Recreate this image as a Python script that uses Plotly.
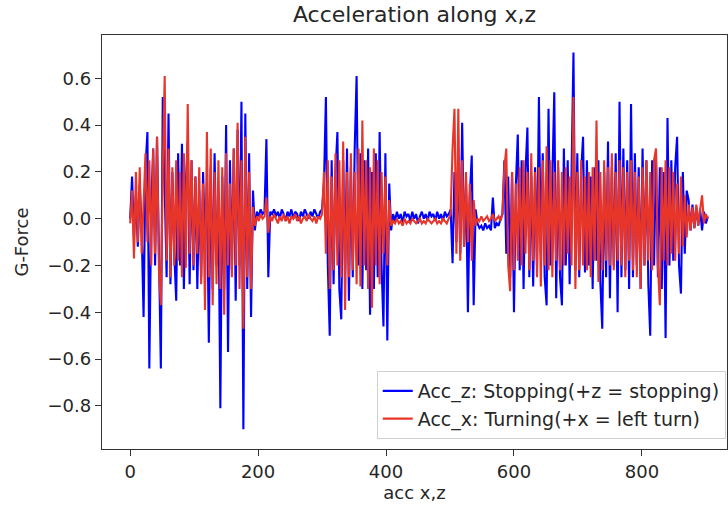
import plotly.graph_objects as go

# Acc_z (blue) values, sample step 3
acc_z = [
    # active 0-195
    0.00, 0.18, -0.08, 0.10, -0.12, 0.15, -0.05, -0.42, 0.22, 0.37,
    -0.64, 0.05, 0.30, -0.20, 0.35, -0.10, -0.64, 0.52, 0.10, -0.25,
    0.45, -0.28, 0.20, -0.15, -0.35, 0.28, -0.20, 0.32, -0.30, 0.15,
    0.33, -0.28, 0.25, -0.22, 0.18, -0.30, 0.12, -0.25, 0.20, -0.10,
    0.15, -0.53, 0.22, -0.30, 0.28, -0.20, 0.10, -0.81, 0.18, -0.30,
    0.40, -0.57, 0.25, -0.22, 0.30, -0.35, 0.38, -0.20, 0.50, -0.90,
    0.45, -0.30, 0.28, -0.42, 0.12, -0.05,
    # quiet 198-300
    0.03, 0.01, 0.04, 0.02, 0.03, 0.34, -0.25, 0.03, 0.02, 0.04,
    0.01, 0.03, 0.00, 0.04, 0.02, -0.01, 0.03, 0.01, 0.04, 0.00,
    0.03, 0.02, -0.01, 0.03, 0.01, 0.04, 0.02, 0.00, 0.03, 0.01,
    0.04, 0.02, 0.00, 0.03, 0.04,
    # active 303-408
    0.15, 0.52, -0.20, -0.50, 0.25, -0.28, 0.20, 0.37, -0.30, -0.43,
    0.25, -0.22, 0.30, -0.35, 0.22, -0.25, 0.30, 0.61, -0.20, 0.28,
    -0.30, 0.25, -0.22, 0.30, -0.41, 0.20, -0.30, 0.28, -0.25, 0.37,
    -0.20, -0.46, 0.28, -0.52, 0.15, -0.05,
    # quiet 411-501
    0.02, -0.01, 0.03, 0.00, 0.02, -0.02, 0.03, 0.01, 0.02, -0.01,
    0.03, 0.00, 0.02, -0.02, 0.01, 0.03, 0.00, 0.02, -0.01, 0.03,
    0.01, 0.02, -0.01, 0.03, 0.00, 0.02, -0.01, 0.03, 0.01, 0.02,
    0.04,
    # active 504-540
    -0.19, 0.20, -0.10, 0.25, -0.15, 0.41, -0.12, 0.15, -0.40, 0.10,
    0.27, -0.37, 0.04,
    # quiet 543-582
    -0.02, -0.04, -0.03, -0.05, -0.02, -0.04, -0.03, -0.05, 0.09, -0.04,
    -0.02, -0.03, 0.00, 0.02,
    # active 585-870
    0.25, -0.15, 0.18, -0.25, 0.20, -0.40, 0.15, 0.36, -0.22, 0.25,
    -0.30, 0.20, 0.39, -0.25, 0.18, -0.29, 0.22, -0.20, 0.52, -0.15,
    0.28, -0.25, -0.37, 0.47, -0.20, 0.25, 0.54, -0.34, 0.22, -0.25,
    -0.37, 0.30, -0.20, 0.25, -0.28, 0.20, 0.71, -0.22, 0.28, -0.25,
    0.20, 0.35, -0.23, 0.25, -0.20, 0.18, -0.30, 0.22, -0.18, 0.25,
    -0.27, -0.47, 0.20, -0.25, 0.33, -0.34, 0.22, -0.20, 0.28, -0.40,
    0.50, -0.25, 0.30, -0.22, 0.25, -0.30, 0.49, -0.25, 0.28, -0.20,
    0.22, -0.30, 0.30, -0.20, 0.25, -0.28, -0.50, 0.25, -0.20, 0.28,
    -0.25, 0.22, -0.30, 0.20, -0.51, 0.43, -0.20, 0.25, -0.18, 0.22,
    0.35, -0.20, -0.32, 0.20, -0.15, 0.12,
    # tail 873-903
    0.08, -0.05, 0.06, -0.04, 0.05, -0.03, 0.04, -0.05, 0.03, -0.02,
    0.01,
]

# Acc_x (red) values, sample step 3
acc_x = [
    # active 0-195
    -0.02, 0.12, -0.17, 0.20, -0.10, 0.22, -0.15, 0.05, 0.28, -0.10,
    0.25, -0.20, 0.30, -0.15, 0.35, -0.22, -0.37, 0.20, 0.61, -0.18,
    0.30, -0.25, 0.22, -0.20, 0.25, -0.18, 0.20, -0.25, 0.28, -0.21,
    0.49, -0.15, 0.25, -0.20, 0.18, -0.15, 0.22, -0.28, 0.15, -0.39,
    0.37, -0.25, 0.30, -0.37, 0.20, -0.28, 0.25, -0.30, 0.22, -0.41,
    0.28, -0.20, 0.15, -0.25, 0.30, -0.20, 0.41, -0.30, 0.25, -0.47,
    0.35, -0.25, 0.20, -0.30, 0.05, -0.03,
    # quiet 198-300
    0.01, -0.01, 0.02, 0.00, 0.01, 0.09, -0.06, 0.01, -0.01, 0.02,
    0.00, -0.02, 0.01, -0.01, 0.02, -0.01, 0.01, -0.02, 0.01, 0.00,
    0.02, -0.01, 0.01, -0.02, 0.00, 0.01, -0.01, 0.02, 0.00, -0.01,
    0.01, -0.02, 0.01, 0.00, 0.02,
    # active 303-408
    0.20, -0.15, 0.25, -0.30, 0.18, -0.22, 0.28, -0.20, 0.25, -0.25,
    0.33, -0.39, 0.20, -0.25, 0.28, -0.22, 0.20, -0.28, 0.30, -0.29,
    0.42, -0.20, 0.25, -0.30, 0.22, -0.38, 0.30, -0.20, 0.25, -0.28,
    0.20, -0.15, 0.18, -0.20, 0.08, -0.03,
    # quiet 411-501
    -0.01, -0.02, 0.00, -0.02, -0.01, -0.03, 0.00, -0.02, -0.01, -0.02,
    0.00, -0.01, -0.02, -0.01, 0.00, -0.02, -0.01, -0.02, 0.00, -0.01,
    -0.02, -0.01, 0.00, -0.02, -0.01, -0.02, 0.00, -0.01, -0.02, 0.00,
    0.02,
    # active 504-540
    0.30, 0.47, -0.15, 0.47, -0.18, 0.25, -0.12, 0.20, -0.10, 0.15,
    -0.18, 0.08, -0.03,
    # quiet 543-582
    0.00, -0.01, 0.01, -0.01, 0.00, 0.01, -0.01, 0.00, 0.02, -0.01,
    0.00, 0.01, -0.01, 0.02,
    # active 585-870
    0.22, 0.30, -0.20, -0.31, 0.20, -0.22, 0.15, -0.18, 0.22, -0.20,
    0.25, -0.15, 0.20, -0.22, 0.28, -0.18, 0.20, -0.25, 0.22, -0.29,
    0.25, -0.20, 0.31, -0.22, 0.25, -0.25, 0.20, -0.18, 0.25, -0.22,
    0.20, -0.20, 0.22, -0.15, 0.18, -0.20, 0.52, -0.30, 0.20, -0.22,
    0.25, -0.20, 0.18, -0.22, 0.20, -0.25, 0.22, -0.18, 0.42, -0.27,
    0.20, -0.22, 0.25, -0.18, 0.22, -0.20, 0.28, -0.22, 0.20, -0.18,
    0.25, -0.20, 0.22, -0.25, 0.20, -0.18, 0.25, -0.22, 0.20, -0.25,
    0.18, -0.30, 0.22, -0.20, 0.25, -0.18, 0.20, -0.22, 0.25, 0.30,
    -0.20, -0.37, 0.22, -0.18, 0.25, -0.20, 0.22, -0.15, 0.20, -0.18,
    0.15, -0.15, 0.18, -0.12, 0.10, -0.08,
    # tail 873-903
    0.06, -0.05, 0.05, -0.04, 0.06, -0.03, 0.04, 0.10, -0.02, 0.02,
    0.00,
]

assert len(acc_z) == len(acc_x), (len(acc_z), len(acc_x))
sample_index = list(range(0, 3 * len(acc_z), 3))

series_names = ["Acc_z: Stopping(+z = stopping)", "Acc_x: Turning(+x = left turn)"]
x_ticks = [0, 200, 400, 600, 800]
y_ticks = [0.6, 0.4, 0.2, 0.0, -0.2, -0.4, -0.6, -0.8]

FONT = "DejaVu Sans"
TXT = "#262626"

fig = go.Figure()
fig.add_trace(go.Scatter(x=sample_index, y=acc_z, mode="lines", name=series_names[0],
                         line=dict(color="#0000ff", width=2.1)))
fig.add_trace(go.Scatter(x=sample_index, y=acc_x, mode="lines", name=series_names[1],
                         line=dict(color="#e8352a", width=2.1)))

axis_common = dict(showgrid=False, zeroline=False, showline=True, mirror=True,
                   linecolor="#333333", linewidth=1.4, ticks="outside", ticklen=6,
                   tickwidth=1.2, tickcolor="#333333",
                   tickfont=dict(family=FONT, size=18, color=TXT))

fig.update_layout(
    width=728, height=512,
    margin=dict(l=102, r=1, t=35, b=63),
    paper_bgcolor="white", plot_bgcolor="white",
    title=dict(text="Acceleration along x,z", x=0.5, xref="paper", y=1 - 14 / 512,
               yref="container", xanchor="center", yanchor="middle",
               font=dict(family=FONT, size=22, color=TXT)),
    xaxis=dict(range=[-44, 933], tickvals=x_ticks,
               title=dict(text="acc x,z", standoff=4,
                          font=dict(family=FONT, size=18, color=TXT)),
               **axis_common),
    yaxis=dict(range=[-0.984, 0.785], tickvals=y_ticks,
               ticktext=[f"{v:.1f}".replace("-", "\u2212") for v in y_ticks],
               title=dict(text="G-Force", standoff=14,
                          font=dict(family=FONT, size=18, color=TXT)),
               **axis_common),
    legend=dict(x=0.998, y=0.024, xanchor="right", yanchor="bottom",
                bgcolor="rgba(255,255,255,0.85)", bordercolor="#d0d0d0", borderwidth=1,
                font=dict(family=FONT, size=19, color=TXT), tracegroupgap=0),
    showlegend=True,
)

fig.write_html("out.html")
